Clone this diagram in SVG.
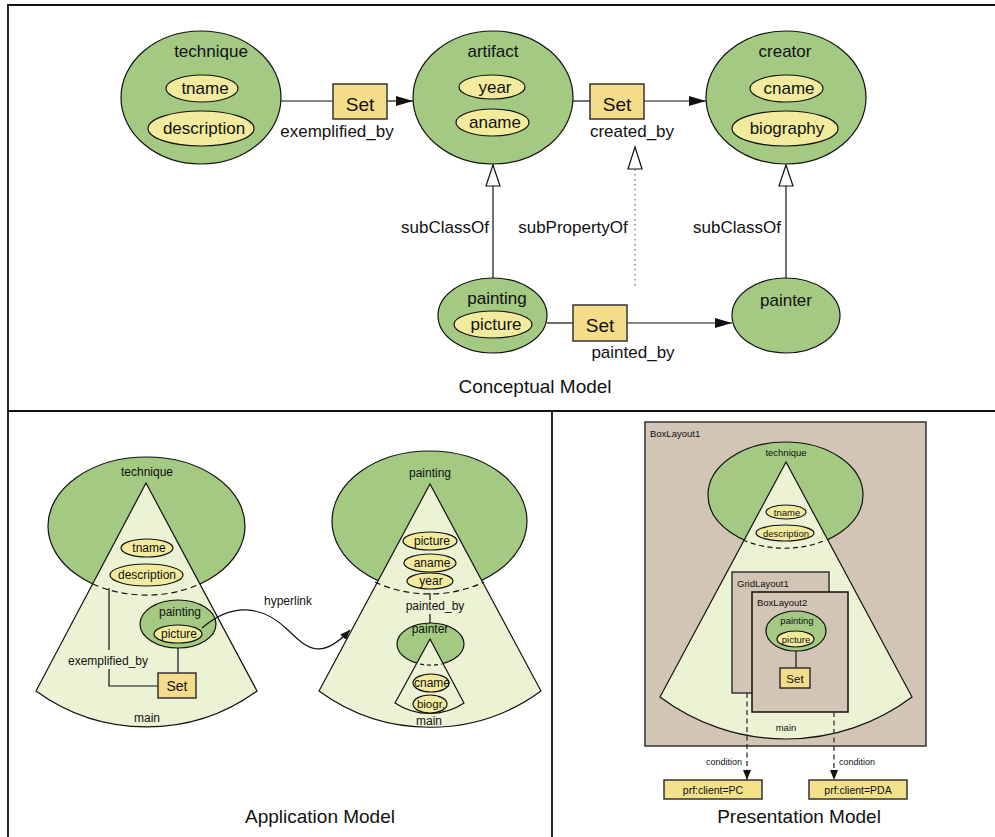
<svg xmlns="http://www.w3.org/2000/svg" width="995" height="837" viewBox="0 0 995 837">
<style>
text{font-family:"Liberation Sans",Arial,sans-serif;fill:#111}
.cls{fill:#a3c983;stroke:#111;stroke-width:1.2}
.att{fill:#f2eb9e;stroke:#111;stroke-width:1.2}
.set{fill:#f4dc8a;stroke:#333;stroke-width:1.5}
.cone{fill:#ecf3d5;stroke:#111;stroke-width:1.2}
.tan{fill:#d2c5b5;stroke:#333;stroke-width:1.5}
.ln{fill:none;stroke:#111;stroke-width:1.2}
.dash{fill:none;stroke:#111;stroke-width:1.2;stroke-dasharray:6 4}
.frame{fill:none;stroke:#111;stroke-width:1.8}
.t17{font-size:17px;text-anchor:middle}
.t19{font-size:19px;text-anchor:middle}
.t12{font-size:12px;text-anchor:middle}
.t9{font-size:9.5px;text-anchor:middle}
</style>
<defs>
<marker id="fill" markerWidth="17" markerHeight="10" refX="17" refY="5" orient="auto" markerUnits="userSpaceOnUse"><path d="M0,0 L17,5 L0,10 Z" fill="#111"/></marker>
<marker id="small" markerWidth="10" markerHeight="8" refX="10" refY="4" orient="auto" markerUnits="userSpaceOnUse"><path d="M0,0 L10,4 L0,8 Z" fill="#111"/></marker>
</defs>
<rect width="995" height="837" fill="#fff"/>

<g id="frames">
<path class="frame" d="M8,837 L8,5 L995,5 M8,411 L995,411 M552,411 L552,837"/>
</g>

<g id="connectors">
<line class="ln" x1="281" y1="101" x2="333" y2="101"/>
<line class="ln" x1="387" y1="101" x2="413" y2="101" marker-end="url(#fill)"/>
<line class="ln" x1="573" y1="101" x2="590" y2="101"/>
<line class="ln" x1="644" y1="101" x2="706" y2="101" marker-end="url(#fill)"/>
<line class="ln" x1="547" y1="323" x2="573" y2="323"/>
<line class="ln" x1="627" y1="323" x2="732" y2="323" marker-end="url(#fill)"/>
<line class="ln" x1="493" y1="278" x2="493" y2="165"/>
<path d="M493,165 L500,186 L486,186 Z" fill="#fff" stroke="#111" stroke-width="1.2"/>
<line class="ln" x1="786" y1="278" x2="786" y2="165"/>
<path d="M786,165 L793,186 L779,186 Z" fill="#fff" stroke="#111" stroke-width="1.2"/>
<line x1="635" y1="169" x2="635" y2="288" stroke="#666" stroke-width="1.2" stroke-dasharray="1.5 3.5"/>
<path d="M635,147 L642,169 L628,169 Z" fill="#fff" stroke="#111" stroke-width="1.2"/>
<text class="t17" x="337" y="137">exemplified_by</text>
<text class="t17" x="632" y="137">created_by</text>
<text class="t17" x="633" y="358">painted_by</text>
<text class="t17" x="445" y="233">subClassOf</text>
<text class="t17" x="573" y="233">subPropertyOf</text>
<text class="t17" x="737" y="233">subClassOf</text>
</g>

<g id="technique">
<ellipse class="cls" cx="201" cy="97.5" rx="80" ry="66.5"/>
<text class="t17" x="211" y="57">technique</text>
<ellipse class="att" cx="202" cy="88.5" rx="36" ry="13.5"/>
<text class="t17" x="205" y="94">tname</text>
<ellipse class="att" cx="201" cy="128.5" rx="53" ry="17.5"/>
<text class="t17" x="204" y="134">description</text>
</g>
<g id="set1"><rect class="set" x="333" y="84" width="54" height="35"/><text class="t19" x="360" y="111">Set</text></g>
<g id="artifact">
<ellipse class="cls" cx="493" cy="97.5" rx="80" ry="66.5"/>
<text class="t17" x="493" y="57">artifact</text>
<ellipse class="att" cx="492" cy="87" rx="33" ry="12"/>
<text class="t17" x="495" y="93">year</text>
<ellipse class="att" cx="492.5" cy="122.5" rx="36.5" ry="13.5"/>
<text class="t17" x="495" y="128">aname</text>
</g>
<g id="set2"><rect class="set" x="590" y="84" width="54" height="35"/><text class="t19" x="617" y="111">Set</text></g>
<g id="creator">
<ellipse class="cls" cx="786" cy="97.5" rx="80" ry="66.5"/>
<text class="t17" x="785" y="57">creator</text>
<ellipse class="att" cx="786.5" cy="88.5" rx="36.5" ry="13.5"/>
<text class="t17" x="789" y="94">cname</text>
<ellipse class="att" cx="785" cy="128.5" rx="53" ry="17.5"/>
<text class="t17" x="787" y="134">biography</text>
</g>
<g id="painting">
<ellipse class="cls" cx="492.5" cy="315.5" rx="54.5" ry="37.5"/>
<text class="t17" x="497" y="304">painting</text>
<ellipse class="att" cx="493" cy="324.5" rx="39" ry="13.5"/>
<text class="t17" x="496" y="330">picture</text>
</g>
<g id="set3"><rect class="set" x="573" y="305" width="54" height="36"/><text class="t19" x="600" y="332">Set</text></g>
<g id="painter">
<ellipse class="cls" cx="786" cy="315.5" rx="54" ry="37.5"/>
<text class="t17" x="786" y="306">painter</text>
</g>
<text class="t19" x="535" y="393">Conceptual Model</text>

<g id="app-technique">
<ellipse class="cls" cx="146.5" cy="526" rx="98.5" ry="69"/>
<text class="t12" x="147" y="476">technique</text>
<path class="cone" d="M146,483 L36,691 A188,188 0 0 0 257,691 Z"/>
<path class="dash" d="M93,584 A98.5,69 0 0 0 200,584"/>
<ellipse class="att" cx="147" cy="548" rx="26" ry="9"/>
<text class="t12" x="149" y="552">tname</text>
<ellipse class="att" cx="146.5" cy="575" rx="36.5" ry="11"/>
<text class="t12" x="147" y="579">description</text>
<ellipse class="cls" cx="178" cy="624" rx="38" ry="24"/>
<text class="t12" x="180" y="616">painting</text>
<ellipse class="att" cx="178" cy="634" rx="24" ry="9"/>
<text class="t12" x="179" y="638">picture</text>
<line class="ln" x1="178" y1="648" x2="178" y2="673"/>
<path class="ln" d="M109,588 L109,650 M109,669 L109,686 L158,686"/>
<text class="t12" x="108" y="665">exemplified_by</text>
<rect class="set" x="158" y="673" width="38" height="25"/>
<text class="t12" x="177" y="691" style="font-size:14px">Set</text>
<text class="t12" x="147" y="722">main</text>
</g>

<g id="hyperlink">
<path class="ln" d="M202,628 C232,602 262,605 288,630 C308,650 322,660 350,630" marker-end="url(#small)"/>
<text class="t12" x="288" y="605">hyperlink</text>
</g>

<g id="app-painting">
<ellipse class="cls" cx="429.5" cy="521" rx="97.5" ry="70"/>
<text class="t12" x="430" y="477">painting</text>
<path class="cone" d="M430,484 L319,691 A188,188 0 0 0 541,691 Z"/>
<path class="dash" d="M375,582 A97.5,70 0 0 0 484,582"/>
<ellipse class="att" cx="430" cy="541" rx="27" ry="9"/>
<text class="t12" x="432" y="545">picture</text>
<ellipse class="att" cx="430" cy="563" rx="26" ry="9"/>
<text class="t12" x="432" y="567">aname</text>
<ellipse class="att" cx="430" cy="581" rx="23" ry="8"/>
<text class="t12" x="431" y="585">year</text>
<path class="ln" d="M430,593 L430,600 M430,614 L430,623"/>
<text class="t12" x="435" y="610">painted_by</text>
<ellipse class="cls" cx="430.5" cy="644" rx="33.5" ry="21"/>
<text class="t12" x="430" y="633">painter</text>
<path class="cone" d="M430,639 L395,703 A62,62 0 0 0 464,703 Z"/>
<path class="dash" d="M420,664 A33.5,21 0 0 0 442,664" style="stroke-dasharray:4 3"/>
<ellipse class="att" cx="431" cy="683" rx="18" ry="9"/>
<text class="t12" x="432" y="687">cname</text>
<ellipse class="att" cx="430" cy="704" rx="17" ry="9"/>
<text class="t12" x="431" y="708" style="font-size:11.5px">biogr.</text>
<text class="t12" x="429" y="725">main</text>
</g>
<text class="t19" x="320" y="823">Application Model</text>

<g id="boxlayout1">
<rect class="tan" x="645" y="422" width="281" height="324"/>
<text x="650" y="437" style="font-size:9.5px">BoxLayout1</text>
<ellipse class="cls" cx="785.5" cy="495" rx="77.5" ry="53"/>
<text class="t9" x="786" y="456">technique</text>
<path class="cone" d="M786,462 L660,697 A210,210 0 0 0 912,697 Z"/>
<path class="dash" d="M743,540 A77.5,53 0 0 0 826,540" style="stroke-dasharray:5 3.5"/>
<ellipse class="att" cx="786" cy="512" rx="20" ry="7"/>
<text class="t9" x="787" y="515.5">tname</text>
<ellipse class="att" cx="785" cy="533" rx="29" ry="8"/>
<text class="t9" x="786" y="536.5">description</text>
<text class="t9" x="786" y="731">main</text>
</g>
<g id="gridlayout1">
<rect class="tan" x="732" y="572" width="97" height="121"/>
<text x="737" y="587" style="font-size:9.5px">GridLayout1</text>
</g>
<g id="boxlayout2">
<rect x="752" y="592" width="96" height="120" fill="#d2c5b5" stroke="#111" stroke-width="1.5"/>
<text x="757" y="606" style="font-size:9.5px">BoxLayout2</text>
<ellipse class="cls" cx="796" cy="631" rx="30" ry="20"/>
<text class="t9" x="797" y="624">painting</text>
<ellipse class="att" cx="795.5" cy="639" rx="18.5" ry="8"/>
<text class="t9" x="796" y="642.5">picture</text>
<line class="ln" x1="796" y1="651" x2="796" y2="668"/>
<rect class="set" x="780" y="668" width="30" height="20"/>
<text class="t9" x="795" y="683" style="font-size:11.5px">Set</text>
</g>
<g id="conditions">
<line x1="747" y1="693" x2="747" y2="780" stroke="#333" stroke-width="1.3" stroke-dasharray="5 3.5" marker-end="url(#small)"/>
<line x1="834" y1="712" x2="834" y2="780" stroke="#333" stroke-width="1.3" stroke-dasharray="5 3.5" marker-end="url(#small)"/>
<text x="742" y="765" style="font-size:9px;text-anchor:end">condition</text>
<text x="839" y="765" style="font-size:9px">condition</text>
</g>
<g id="pc">
<rect class="set" x="664" y="780" width="98" height="19" style="fill:#f2e08a"/>
<text class="t9" x="713" y="794" style="font-size:10.5px">prf:client=PC</text>
</g>
<g id="pda">
<rect class="set" x="809" y="780" width="98" height="19" style="fill:#f2e08a"/>
<text class="t9" x="858" y="794" style="font-size:10.5px">prf:client=PDA</text>
</g>
<text class="t19" x="799" y="823">Presentation Model</text>
</svg>
